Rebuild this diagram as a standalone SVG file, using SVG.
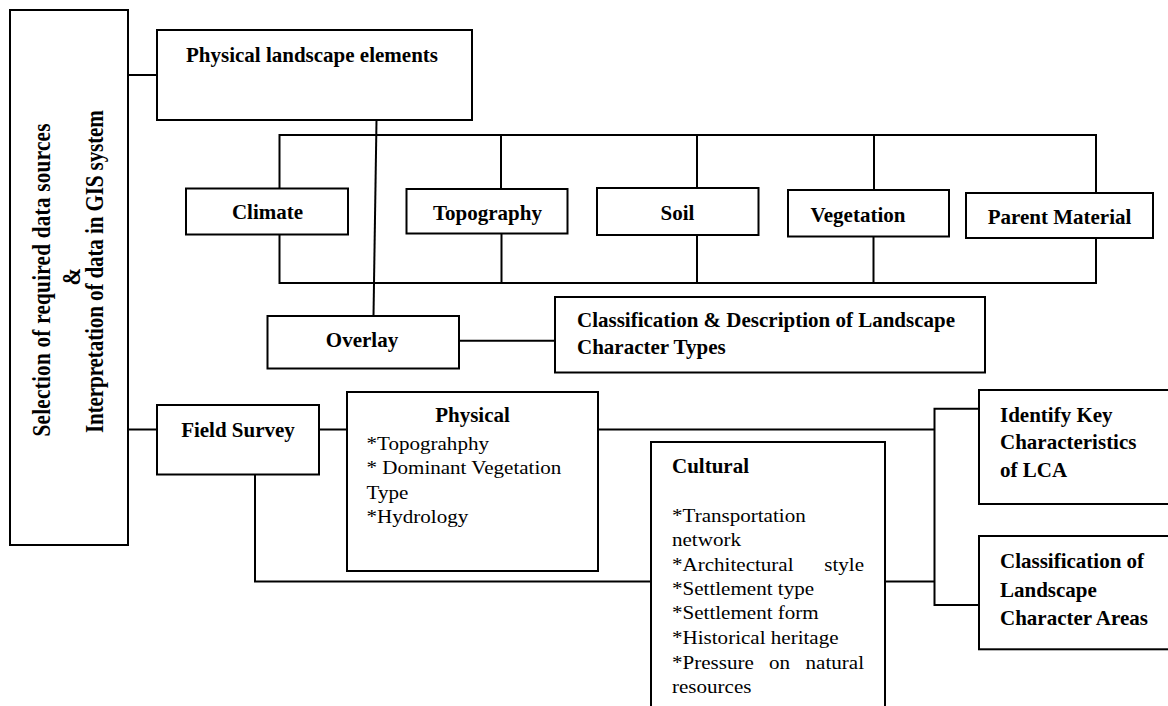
<svg xmlns="http://www.w3.org/2000/svg" width="1168" height="706" viewBox="0 0 1168 706">
<style>
.box{fill:#fff;stroke:#000;stroke-width:2}
.ln{fill:none;stroke:#000;stroke-width:2}
.t{font-family:"Liberation Serif","Times New Roman",serif;font-size:18px;fill:#000}
.h{font-family:"Liberation Serif","Times New Roman",serif;font-size:21px;font-weight:bold;fill:#000}
.m{text-anchor:middle}
.e{text-anchor:end}
.r{font-family:"Liberation Serif","Times New Roman",serif;font-size:21.2px;font-weight:bold;fill:#000;text-anchor:middle}
</style>
<rect width="1168" height="706" fill="#fff"/>
<g id="connectors">
<line class="ln" x1="128" y1="75" x2="157" y2="75"/>
<line class="ln" x1="376.5" y1="120" x2="373.5" y2="316"/>
<line class="ln" x1="279.5" y1="135" x2="1097" y2="135"/>
<line class="ln" x1="279.5" y1="134" x2="279.5" y2="188.5"/>
<line class="ln" x1="501" y1="135" x2="501" y2="189"/>
<line class="ln" x1="697" y1="135" x2="697" y2="188"/>
<line class="ln" x1="874" y1="135" x2="874" y2="190"/>
<line class="ln" x1="1096" y1="134" x2="1096" y2="193"/>
<line class="ln" x1="279.5" y1="283" x2="1097" y2="283"/>
<line class="ln" x1="279.5" y1="234.5" x2="279.5" y2="284"/>
<line class="ln" x1="501.5" y1="233.5" x2="501.5" y2="283"/>
<line class="ln" x1="697" y1="235" x2="697" y2="283"/>
<line class="ln" x1="873.5" y1="236.5" x2="873.5" y2="283"/>
<line class="ln" x1="1096" y1="238" x2="1096" y2="284"/>
<line class="ln" x1="459" y1="340.7" x2="555" y2="340.7"/>
<line class="ln" x1="128" y1="429.5" x2="157" y2="429.5"/>
<line class="ln" x1="319" y1="429.5" x2="347" y2="429.5"/>
<line class="ln" x1="598" y1="429.5" x2="934.5" y2="429.5"/>
<polyline class="ln" points="979,408.7 934.5,408.7 934.5,605 979,605"/>
<line class="ln" x1="885" y1="581.5" x2="934.5" y2="581.5"/>
<polyline class="ln" points="255,474.5 255,581.5 651,581.5"/>
</g>
<g id="sources">
<rect class="box" x="10" y="10" width="118" height="535"/>
<text class="r" transform="translate(49.5,280) scale(1.17,1) rotate(-90)" textLength="313" lengthAdjust="spacing">Selection of required data sources</text>
<text class="r" transform="translate(80,276.7) scale(1.17,1) rotate(-90)">&amp;</text>
<text class="r" transform="translate(103,271.5) scale(1.17,1) rotate(-90)" textLength="323" lengthAdjust="spacing">Interpretation of data in GIS system</text>
</g>
<g id="physical-landscape">
<rect class="box" x="157" y="30" width="315" height="90"/>
<text class="h" x="186" y="61.5">Physical landscape elements</text>
</g>
<g id="climate">
<rect class="box" x="186" y="188.5" width="162" height="46"/>
<text class="h m" x="267.5" y="218.5">Climate</text>
</g>
<g id="topography">
<rect class="box" x="406.5" y="189" width="161" height="44.5"/>
<text class="h m" x="487.5" y="219.5">Topography</text>
</g>
<g id="soil">
<rect class="box" x="597" y="188" width="161.5" height="47"/>
<text class="h m" x="677.5" y="220">Soil</text>
</g>
<g id="vegetation">
<rect class="box" x="788" y="190" width="161" height="46.5"/>
<text class="h m" x="858" y="221.5">Vegetation</text>
</g>
<g id="parent-material">
<rect class="box" x="966" y="193" width="187" height="45"/>
<text class="h m" x="1059.5" y="224">Parent Material</text>
</g>
<g id="overlay">
<rect class="box" x="267.5" y="316" width="191.5" height="52.5"/>
<text class="h m" x="362" y="347">Overlay</text>
</g>
<g id="classification-types">
<rect class="box" x="555" y="297" width="430" height="75.5"/>
<text class="h" x="577" y="327">Classification &amp; Description of Landscape</text>
<text class="h" x="577" y="354">Character Types</text>
</g>
<g id="field-survey">
<rect class="box" x="157" y="405" width="162" height="69.5"/>
<text class="h m" x="238" y="436.5">Field Survey</text>
</g>
<g id="physical">
<rect class="box" x="347" y="392" width="251" height="179"/>
<text class="h m" x="472.5" y="422">Physical</text>
<text class="t" transform="translate(366.5,450) scale(1.17,1)">*Topograhphy</text>
<text class="t" transform="translate(366.5,474.3) scale(1.17,1)">* Dominant Vegetation</text>
<text class="t" transform="translate(366.5,498.5) scale(1.17,1)">Type</text>
<text class="t" transform="translate(366.5,522.7) scale(1.17,1)">*Hydrology</text>
</g>
<g id="cultural">
<rect class="box" x="651" y="442" width="234" height="290"/>
<text class="h" x="672" y="472.7">Cultural</text>
<text class="t" transform="translate(672,521.7) scale(1.17,1)">*Transportation</text>
<text class="t" transform="translate(672,545.7) scale(1.17,1)">network</text>
<text class="t" transform="translate(672,570.5) scale(1.17,1)">*Architectural</text>
<text class="t e" transform="translate(864,570.5) scale(1.17,1)">style</text>
<text class="t" transform="translate(672,595) scale(1.17,1)">*Settlement type</text>
<text class="t" transform="translate(672,619.3) scale(1.17,1)">*Settlement form</text>
<text class="t" transform="translate(672,644) scale(1.17,1)">*Historical heritage</text>
<text class="t" transform="translate(672,668.5) scale(1.17,1)">*Pressure</text>
<text class="t" transform="translate(769,668.5) scale(1.17,1)">on</text>
<text class="t e" transform="translate(864,668.5) scale(1.17,1)">natural</text>
<text class="t" transform="translate(672,692.7) scale(1.17,1)">resources</text>
</g>
<g id="identify-key">
<rect class="box" x="979" y="390" width="200" height="114"/>
<text class="h" x="1000" y="421.7">Identify Key</text>
<text class="h" x="1000" y="449">Characteristics</text>
<text class="h" x="1000" y="477">of LCA</text>
</g>
<g id="classification-areas">
<rect class="box" x="979" y="536" width="200" height="113.3"/>
<text class="h" x="1000" y="568">Classification of</text>
<text class="h" x="1000" y="596.7">Landscape</text>
<text class="h" x="1000" y="625">Character Areas</text>
</g>
</svg>
